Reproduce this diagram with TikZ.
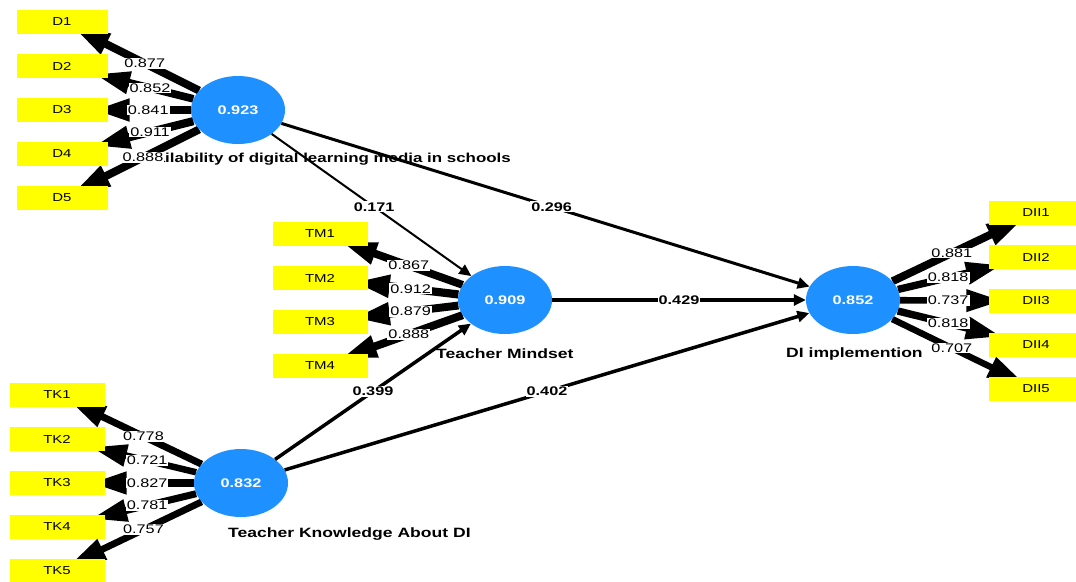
\documentclass[tikz,border=0pt]{standalone}
\usepackage{fontspec}
\setmainfont{Liberation Sans}[FakeStretch=1.3]
\usetikzlibrary{arrows.meta,calc,shapes.geometric,backgrounds}
\definecolor{LVClr}{RGB}{30,144,255}
\definecolor{IndClr}{RGB}{255,255,0}

\begin{document}
\begin{tikzpicture}[x=1pt,y=-1pt,
  indbox/.style={fill=IndClr,minimum width=95pt,minimum height=24pt,inner sep=0pt,font=\fontsize{11.5}{13}\selectfont},
  lvnode/.style={ellipse,fill=LVClr,minimum width=94pt,minimum height=68pt,inner sep=0pt,text=white,font=\bfseries\fontsize{12.5}{14}\selectfont},
  lvname/.style={inner sep=0pt,font=\bfseries\fontsize{13.5}{16}\selectfont},
  loadarr/.style={line width=#1,shorten >=-14pt,-{Triangle[length=36pt,width=21pt]}},
  patharr/.style={line width=#1,-{Triangle[length=12pt,width=11pt]}},
  loadlbl/.style={fill=white,inner sep=1pt,font=\fontsize{12.5}{14}\selectfont},
  coeflbl/.style={fill=white,inner sep=1pt,font=\bfseries\fontsize{12.5}{14}\selectfont}]
\useasboundingbox (0,0) rectangle (1076,581);
\clip (0,0) rectangle (1076,581);

\node[lvnode] (Avail) at (238,110) {0.923};
\node[lvnode] (Mind) at (505,300) {0.909};
\node[lvnode] (Impl) at (853,300) {0.852};
\node[lvnode] (Know) at (241,483) {0.832};

\node[indbox,minimum width=91pt] (D1) at (62,22) {D1};
\node[indbox,minimum width=91pt] (D2) at (62,66) {D2};
\node[indbox,minimum width=91pt] (D3) at (62,110) {D3};
\node[indbox,minimum width=91pt] (D4) at (62,154) {D4};
\node[indbox,minimum width=91pt] (D5) at (62,198) {D5};

\node[indbox] (TM1) at (320,234) {TM1};
\node[indbox] (TM2) at (320,278) {TM2};
\node[indbox] (TM3) at (320,322) {TM3};
\node[indbox] (TM4) at (320,366) {TM4};

\node[indbox] (DII1) at (1036,213) {DII1};
\node[indbox] (DII2) at (1036,257) {DII2};
\node[indbox] (DII3) at (1036,301) {DII3};
\node[indbox] (DII4) at (1036,345) {DII4};
\node[indbox] (DII5) at (1036,389) {DII5};

\node[indbox] (TK1) at (57,395) {TK1};
\node[indbox] (TK2) at (57,439) {TK2};
\node[indbox] (TK3) at (57,483) {TK3};
\node[indbox] (TK4) at (57,527) {TK4};
\node[indbox] (TK5) at (57,571) {TK5};

\begin{scope}[on background layer]
\draw[loadarr=7.9pt] (Avail) -- (D1);
\draw[loadarr=7.7pt] (Avail) -- (D2);
\draw[loadarr=7.6pt] (Avail) -- (D3);
\draw[loadarr=8.2pt] (Avail) -- (D4);
\draw[loadarr=8pt] (Avail) -- (D5);

\draw[loadarr=7.8pt] (Mind) -- (TM1);
\draw[loadarr=8.2pt] (Mind) -- (TM2);
\draw[loadarr=7.9pt] (Mind) -- (TM3);
\draw[loadarr=8pt] (Mind) -- (TM4);

\draw[loadarr=7.9pt] (Impl) -- (DII1);
\draw[loadarr=7.4pt] (Impl) -- (DII2);
\draw[loadarr=6.6pt] (Impl) -- (DII3);
\draw[loadarr=7.4pt] (Impl) -- (DII4);
\draw[loadarr=6.4pt] (Impl) -- (DII5);

\draw[loadarr=7pt] (Know) -- (TK1);
\draw[loadarr=6.5pt] (Know) -- (TK2);
\draw[loadarr=7.4pt] (Know) -- (TK3);
\draw[loadarr=7pt] (Know) -- (TK4);
\draw[loadarr=6.8pt] (Know) -- (TK5);
\end{scope}

\draw[patharr=2pt] (Avail) -- (Mind);
\draw[patharr=3pt] (Avail) -- (Impl);
\draw[patharr=3.5pt] (Mind) -- (Impl);
\draw[patharr=3.5pt] (Know) -- (Mind);
\draw[patharr=3.5pt] (Know) -- (Impl);

\node[lvname,anchor=base east,font=\bfseries\fontsize{13}{16}\selectfont] (AvailName) at (511,162) {Availability of digital learning media in schools};
\node[lvname,anchor=base west] (MindName) at (436,358) {Teacher Mindset};
\node[lvname,anchor=base west] (ImplName) at (786,357) {DI implemention};
\node[lvname,anchor=base west] (KnowName) at (228,537) {Teacher Knowledge About DI};

\node[coeflbl] at ($(Avail)!0.51!(Mind)$) {0.171};
\node[coeflbl] at ($(Avail)!0.51!(Impl)$) {0.296};
\node[coeflbl] at ($(Mind)!0.5!(Impl)$) {0.429};
\node[coeflbl] at ($(Know)!0.5!(Mind)$) {0.399};
\node[coeflbl] at ($(Know)!0.5!(Impl)$) {0.402};

\node[loadlbl] at ($(Avail)!0.53!(D1)$) {0.877};
\node[loadlbl] at ($(Avail)!0.5!(D2)$) {0.852};
\node[loadlbl] at ($(Avail)!0.51!(D3)$) {0.841};
\node[loadlbl] at ($(Avail)!0.5!(D4)$) {0.911};
\node[loadlbl] at ($(Avail)!0.54!(D5)$) {0.888};

\node[loadlbl] at ($(Mind)!0.52!(TM1)$) {0.867};
\node[loadlbl] at ($(Mind)!0.51!(TM2)$) {0.912};
\node[loadlbl] at ($(Mind)!0.51!(TM3)$) {0.879};
\node[loadlbl] at ($(Mind)!0.52!(TM4)$) {0.888};

\node[loadlbl] at ($(Impl)!0.54!(DII1)$) {0.881};
\node[loadlbl] at ($(Impl)!0.52!(DII2)$) {0.818};
\node[loadlbl] at ($(Impl)!0.52!(DII3)$) {0.737};
\node[loadlbl] at ($(Impl)!0.52!(DII4)$) {0.818};
\node[loadlbl] at ($(Impl)!0.54!(DII5)$) {0.707};

\node[loadlbl] at ($(Know)!0.53!(TK1)$) {0.778};
\node[loadlbl] at ($(Know)!0.51!(TK2)$) {0.721};
\node[loadlbl] at ($(Know)!0.51!(TK3)$) {0.827};
\node[loadlbl] at ($(Know)!0.51!(TK4)$) {0.781};
\node[loadlbl] at ($(Know)!0.53!(TK5)$) {0.757};

\end{tikzpicture}
\end{document}
